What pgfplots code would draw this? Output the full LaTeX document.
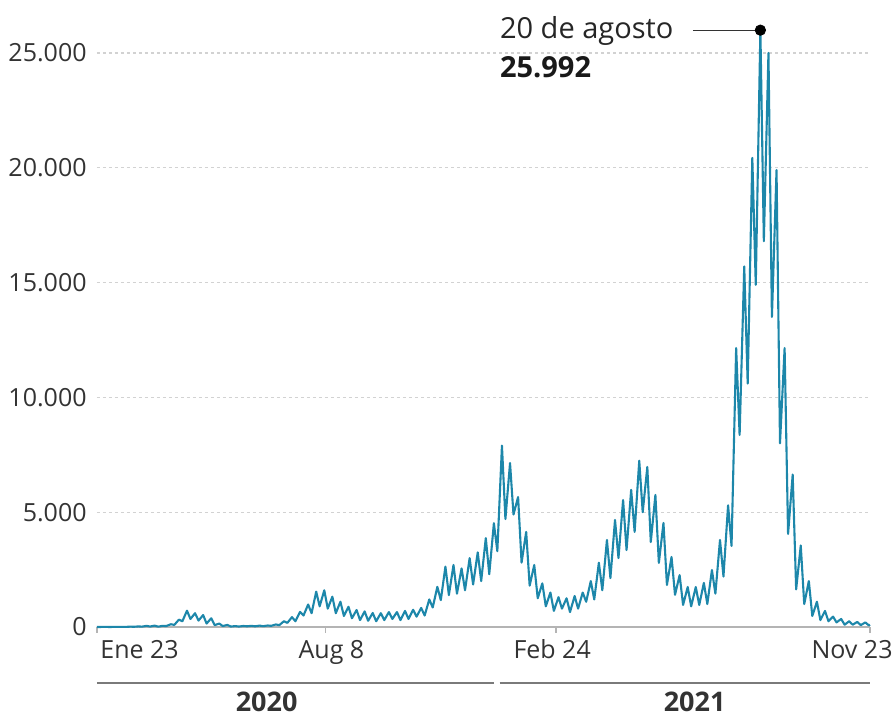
\documentclass[border=0pt]{standalone}
\usepackage{pgfplots}
\pgfplotsset{compat=1.18}
\usepackage{fontspec}
\setmainfont{Open Sans}
\definecolor{linec}{HTML}{1D87AA}
\definecolor{txt}{HTML}{333333}
\definecolor{gridc}{HTML}{D2D2D2}
\definecolor{axc}{HTML}{B4B4B4}
\definecolor{yearc}{HTML}{7A7A7A}
\begin{document}
\begin{tikzpicture}
\begin{axis}[
 at={(0,0)}, anchor=south west,
 scale only axis, width=386.5pt, height=304.25pt,
 xmin=0, xmax=670, ymin=0, ymax=26500,
 axis x line*=bottom, axis y line*=left,
 x axis line style={-, draw=axc, line width=1pt},
 y axis line style={draw=none},
 xtick={0,198,398,670}, xticklabels={},
 xtick style={draw=axc, line width=0.8pt},
 xtick align=outside, major tick length=3pt,
 ytick={0,5000,10000,15000,20000,25000},
 ytick style={draw=none},
 ymajorgrids, grid style={gridc, dash pattern=on 1.5pt off 1.5pt, line width=0.6pt},
 yticklabel style={font=\fontsize{12.5}{14}\selectfont, text=txt, anchor=east, inner sep=0pt, xshift=-5pt},
 scaled y ticks=false,
 /pgf/number format/1000 sep={.},
 /pgf/number format/assume math mode=true,
 clip=false,
]
\addplot[linec, line width=1.05pt, line join=round] coordinates {
(0,1)
(4,2)(8,3)(11,1)(15,3)(18,2)(22,8)(25,5)(29,15)(32,10)(36,25)
(39,15)(43,50)(46,20)(50,60)(53,15)(57,50)(60,40)(64,120)(67,90)(71,320)
(74,250)(78,710)(81,350)(85,600)(88,280)(92,520)(95,150)(99,380)(102,80)(106,150)
(109,40)(113,90)(116,20)(120,40)(123,20)(127,45)(130,30)(134,50)(137,30)(141,60)
(144,35)(148,65)(151,50)(155,110)(158,80)(162,250)(165,180)(169,430)(172,250)(176,660)
(179,500)(183,980)(186,600)(190,1540)(193,900)(197,1600)(200,800)(204,1320)(207,600)(211,1100)
(214,480)(218,880)(221,380)(225,740)(228,300)(232,680)(235,270)(239,610)(242,250)(246,600)
(249,300)(253,650)(256,350)(260,650)(263,300)(267,700)(270,350)(274,750)(277,450)(281,830)
(284,500)(288,1200)(291,850)(295,1750)(298,1170)(302,2630)(305,1390)(309,2700)(312,1450)(316,2550)
(319,1600)(323,3000)(326,1850)(330,3250)(333,2000)(337,3870)(340,2300)(344,4520)(347,3300)(351,7900)
(354,4700)(358,7140)(361,4900)(365,5660)(368,2800)(372,4140)(375,1800)(379,2700)(382,1250)(386,1900)
(389,900)(393,1500)(396,700)(400,1300)(403,800)(407,1250)(410,650)(414,1350)(417,800)(421,1500)
(424,1100)(428,2000)(431,1200)(435,2800)(438,1600)(442,3790)(445,2130)(449,4660)(452,3000)(456,5530)
(459,3350)(463,5970)(466,4140)(470,7240)(473,5000)(477,6970)(480,3700)(484,5750)(487,2790)(491,4530)
(494,1830)(498,3050)(501,1400)(505,2260)(508,960)(512,1740)(515,900)(519,1740)(522,960)(526,1920)
(529,1000)(533,2480)(536,1450)(540,3790)(543,2200)(547,5300)(550,3530)(554,12150)(557,8360)(561,15700)
(564,10600)(568,20430)(571,14900)(575,25992)(578,16800)(582,25000)(585,13500)(589,19900)(592,8000)(596,12150)
(599,4050)(603,6640)(606,1640)(610,3550)(613,1000)(617,2000)(620,480)(624,1100)(627,300)(631,700)
(634,250)(638,450)(641,200)(645,350)(648,100)(652,250)(655,100)(659,220)(662,80)(666,200)
(669,70)(670,100)
};
\addplot[only marks, mark=*, mark size=2.6pt, black] coordinates {(575,25992)};
\draw[txt, line width=0.6pt] (axis cs:516.5,25992) -- (axis cs:575,25992);
\node[anchor=west, inner sep=0pt, font=\fontsize{14.5}{17}\selectfont, text=black!85] at (axis cs:349,25960) {20 de agosto};
\node[anchor=west, inner sep=0pt, font=\bfseries\fontsize{14.5}{17}\selectfont, text=black!90] at (axis cs:349,24390) {25.992};
% x tick labels
\node[anchor=base west, inner sep=0pt, font=\fontsize{12.5}{14}\selectfont, text=txt] at ([xshift=1.5pt,yshift=-16pt]axis cs:0,0) {Ene 23};
\node[anchor=base, inner sep=0pt, font=\fontsize{12.5}{14}\selectfont, text=txt] at ([xshift=3pt,yshift=-16pt]axis cs:198,0) {Aug 8};
\node[anchor=base, inner sep=0pt, font=\fontsize{12.5}{14}\selectfont, text=txt] at ([xshift=-2pt,yshift=-16pt]axis cs:398,0) {Feb 24};
\node[anchor=base east, inner sep=0pt, font=\fontsize{12.5}{14}\selectfont, text=txt] at ([xshift=11.5pt,yshift=-16pt]axis cs:670,0) {Nov 23};
% year bands
\draw[yearc, line width=0.9pt] ([yshift=-28pt]axis cs:0,0) -- ([yshift=-28pt]axis cs:344,0);
\draw[yearc, line width=0.9pt] ([yshift=-28pt]axis cs:349,0) -- ([yshift=-28pt]axis cs:670,0);
\node[anchor=base, inner sep=0pt, font=\bfseries\fontsize{13.5}{16}\selectfont, text=txt] at ([yshift=-42.3pt]axis cs:147,0) {2020};
\node[anchor=base, inner sep=0pt, font=\bfseries\fontsize{13.5}{16}\selectfont, text=txt] at ([yshift=-42.3pt]axis cs:518,0) {2021};
\end{axis}
\pgfresetboundingbox
\path[use as bounding box] (-48.5pt,-45pt) rectangle (399.5pt,313.5pt);
\end{tikzpicture}
\end{document}
